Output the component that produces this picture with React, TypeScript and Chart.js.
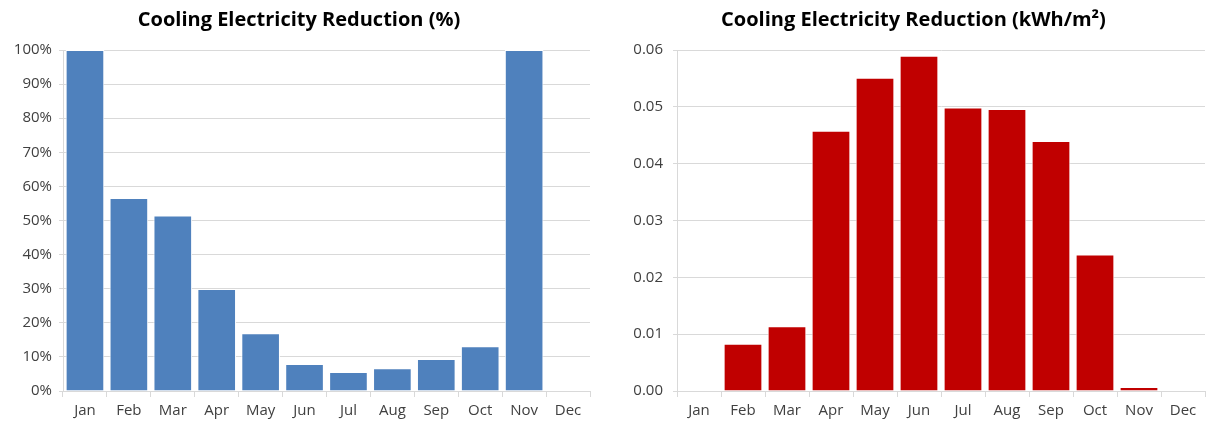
import React, { useEffect, useRef } from "react";
import { Chart, registerables } from "chart.js";

Chart.register(...registerables);

const months = ["Jan", "Feb", "Mar", "Apr", "May", "Jun", "Jul", "Aug", "Sep", "Oct", "Nov", "Dec"];
const reductionPct = [100, 56.6, 51.5, 29.9, 16.9, 7.9, 5.6, 6.7, 9.4, 13.1, 100, 0];
const reductionKwh = [0, 0.0083, 0.0114, 0.0458, 0.0551, 0.059, 0.0499, 0.0496, 0.044, 0.024, 0.0007, 0];
const pctTicks = [0, 10, 20, 30, 40, 50, 60, 70, 80, 90, 100];
const kwhTicks = [0, 0.01, 0.02, 0.03, 0.04, 0.05, 0.06];

const FONT = "'Open Sans', 'Liberation Sans', sans-serif";

function makeOptions(
  title: string,
  max: number,
  step: number,
  fmt: (v: number) => string,
  leftPad: number,
  rightPad: number,
  labelPad: number
) {
  return {
    animation: false as const,
    responsive: false,
    maintainAspectRatio: false,
    layout: { padding: { left: leftPad, right: rightPad, top: 0, bottom: 0 } },
    plugins: {
      legend: { display: false },
      tooltip: { enabled: false },
      title: {
        display: true,
        text: title,
        color: "#000000",
        font: { family: FONT, size: 20, weight: "bold" as const, lineHeight: 1.2 },
        padding: { top: 8, bottom: 18 },
      },
    },
    scales: {
      x: {
        afterFit: (s: any) => {
          s.height = 33;
        },
        grid: {
          display: true,
          drawOnChartArea: false,
          drawTicks: true,
          tickLength: 6,
          offset: true,
          color: "#d9d9d9",
        },
        border: { display: true, color: "#d9d9d9" },
        ticks: { color: "#404040", font: { family: FONT, size: 15 }, padding: 5, maxRotation: 0 },
      },
      y: {
        min: 0,
        max: max,
        afterFit: (s: any) => {
          s.width = 55;
        },
        grid: { color: "#d9d9d9", drawTicks: true, tickLength: 4 },
        border: { display: true, color: "#d9d9d9" },
        ticks: {
          stepSize: step,
          color: "#404040",
          font: { family: FONT, size: 15 },
          padding: labelPad,
          callback: (v: any) => fmt(Number(v)),
        },
      },
    },
  };
}

function BarChart(props: {
  data: number[];
  color: string;
  title: string;
  max: number;
  step: number;
  fmt: (v: number) => string;
  width: number;
  leftPad: number;
  rightPad: number;
  labelPad: number;
}) {
  const ref = useRef<HTMLCanvasElement>(null);
  useEffect(() => {
    if (!ref.current) return;
    const chart = new Chart(ref.current, {
      type: "bar",
      data: {
        labels: months,
        datasets: [
          {
            data: props.data,
            backgroundColor: props.color,
            borderColor: "#ffffff",
            borderWidth: 1,
            categoryPercentage: 1,
            barPercentage: 0.88,
          },
        ],
      },
      options: makeOptions(
        props.title,
        props.max,
        props.step,
        props.fmt,
        props.leftPad,
        props.rightPad,
        props.labelPad
      ) as any,
    });
    return () => chart.destroy();
  }, []);
  return <canvas ref={ref} width={props.width} height={424} style={{ display: "block" }} />;
}

export default function App() {
  return (
    <div style={{ position: "fixed", left: 0, top: 0, width: 1209, height: 424, background: "#ffffff", display: "flex" }}>
      <BarChart
        data={reductionPct}
        color="#4F81BD"
        title="Cooling Electricity Reduction (%)"
        max={pctTicks[pctTicks.length - 1]}
        step={pctTicks[1] - pctTicks[0]}
        fmt={(v) => `${Math.round(v)}%`}
        width={600}
        leftPad={8}
        rightPad={10}
        labelPad={7}
      />
      <BarChart
        data={reductionKwh}
        color="#C00000"
        title="Cooling Electricity Reduction (kWh/m²)"
        max={kwhTicks[kwhTicks.length - 1]}
        step={kwhTicks[1] - kwhTicks[0]}
        fmt={(v) => v.toFixed(2)}
        width={609}
        leftPad={22}
        rightPad={4}
        labelPad={10}
      />
    </div>
  );
}
